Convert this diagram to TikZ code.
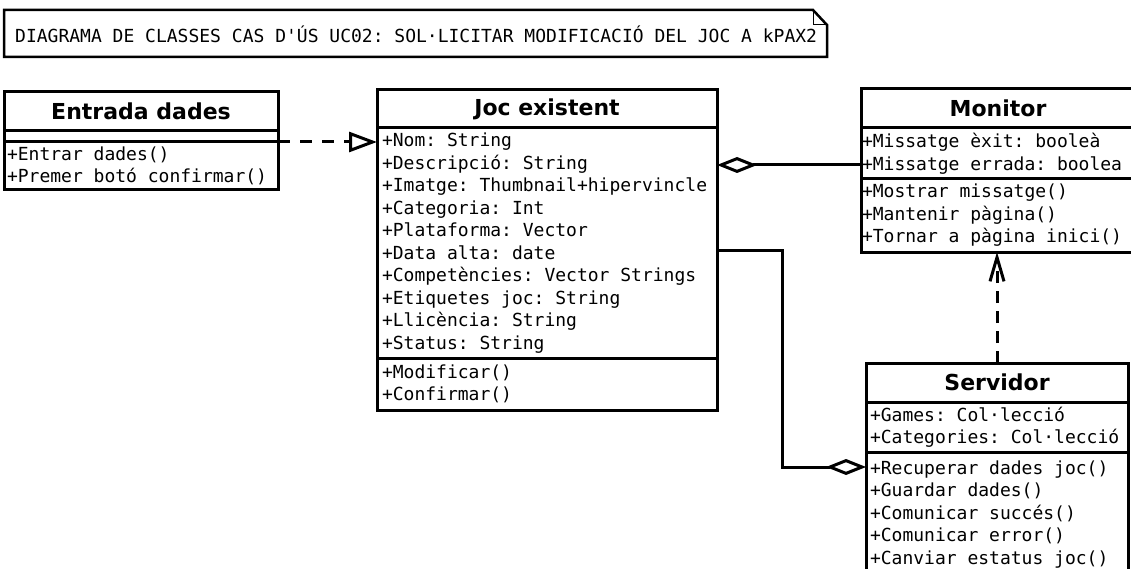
\documentclass[tikz,border=0pt]{standalone}
\usepackage{fontspec}
\setmainfont{DejaVu Sans}
\setmonofont{DejaVu Sans Mono}
\usetikzlibrary{positioning,arrows.meta}
\newcommand\monofont{\fontsize{18}{22.5}\selectfont\ttfamily\spaceskip=0.602em\xspaceskip=0.602em\relax}
\tikzset{
  box/.style={draw,line width=3pt,inner ysep=0pt,outer sep=0pt,anchor=north west},
  nom/.style={box,font=\fontsize{22}{26}\selectfont\bfseries},
  camps/.style={box,font=\monofont,align=flush left,
    execute at begin node={\spaceskip=0.602em\xspaceskip=0.602em\relax}},
  realitza/.style={line width=3pt,dash pattern=on 12pt off 10pt,-{Triangle[open,length=28pt,width=20pt]}},
  agrega/.style={line width=3pt,-{Diamond[open,length=40pt,width=16pt]}},
  depen/.style={line width=3pt,dash pattern=on 12pt off 8pt,-{Straight Barb[length=24pt,width=14pt]}}
}
\begin{document}
\begin{tikzpicture}[x=1pt,y=-1pt]
\useasboundingbox (0,0) rectangle (1131,569);
\clip (0,0) rectangle (1131,569);
\node[anchor=base west,inner sep=0pt,font=\monofont] (nota) at (15,43) {DIAGRAMA DE CLASSES CAS D\textquotesingle ÚS UC02: SOL·LICITAR MODIFICACIÓ DEL JOC A kPAX2};
\draw[line width=2.5pt] (4,10) -- (813,10) -- (827,25) -- (827,57) -- (4,57) -- cycle;
\draw[line width=1pt] (813,10) -- (813,25) -- (827,25);
\node[nom,minimum width=274pt,minimum height=39pt] (ent) at (4,92) {Entrada dades};
\node[camps,below=0pt of ent,minimum height=11pt,inner xsep=3pt,text width=268pt] (entA) {};
\node[camps,below=0pt of entA,minimum height=48pt,inner xsep=3pt,text width=268pt] (entM) {+Entrar dades()\\+Premer botó confirmar()};
\node[nom,minimum width=340pt,minimum height=38pt] (joc) at (377,90) {Joc existent};
\node[camps,below=0pt of joc,minimum height=230pt,inner xsep=5pt,text width=330pt] (jocA) {+Nom: String\\+Descripció: String\\+Imatge: Thumbnail+hipervincle\\+Categoria: Int\\+Plataforma: Vector\\+Data alta: date\\+Competències: Vector Strings\\+Etiquetes joc: String\\+Llicència: String\\+Status: String};
\node[camps,below=0pt of jocA,minimum height=52pt,inner xsep=5pt,text width=330pt] (jocM) {+Modificar()\\+Confirmar()};
\node[nom,minimum width=274pt,minimum height=39pt] (mon) at (861,89) {Monitor};
\node[camps,below=0pt of mon,minimum height=51pt,inner xsep=1pt,text width=272pt] (monA) {+Missatge èxit: booleà\\+Missatge errada: boolea};
\node[camps,below=0pt of monA,minimum height=73pt,inner xsep=1pt,text width=272pt] (monM) {+Mostrar missatge()\\+Mantenir pàgina()\\+Tornar a pàgina inici()};
\node[nom,minimum width=262pt,minimum height=39pt] (srv) at (866,363) {Servidor};
\node[camps,below=0pt of srv,minimum height=50pt,inner xsep=4pt,text width=254pt] (srvA) {+Games: Col·lecció\\+Categories: Col·lecció};
\node[camps,below=0pt of srvA,minimum height=125pt,inner xsep=4pt,text width=254pt] (srvM) {+Recuperar dades joc()\\+Guardar dades()\\+Comunicar succés()\\+Comunicar error()\\+Canviar estatus joc()};
\coordinate (colze) at (782,467);
\draw[realitza] (entM.north east) -- (entM.north east -| jocA.west);
\draw[agrega] ([yshift=14pt]monA.south west) -- ([yshift=14pt]monA.south west -| jocA.east);
\draw[agrega] ([yshift=-7pt]jocA.east) -| (colze) -- ([yshift=-15pt]srvM.north west);
\draw[depen] (srv.north) -- (srv.north |- monM.south);
\end{tikzpicture}
\end{document}
